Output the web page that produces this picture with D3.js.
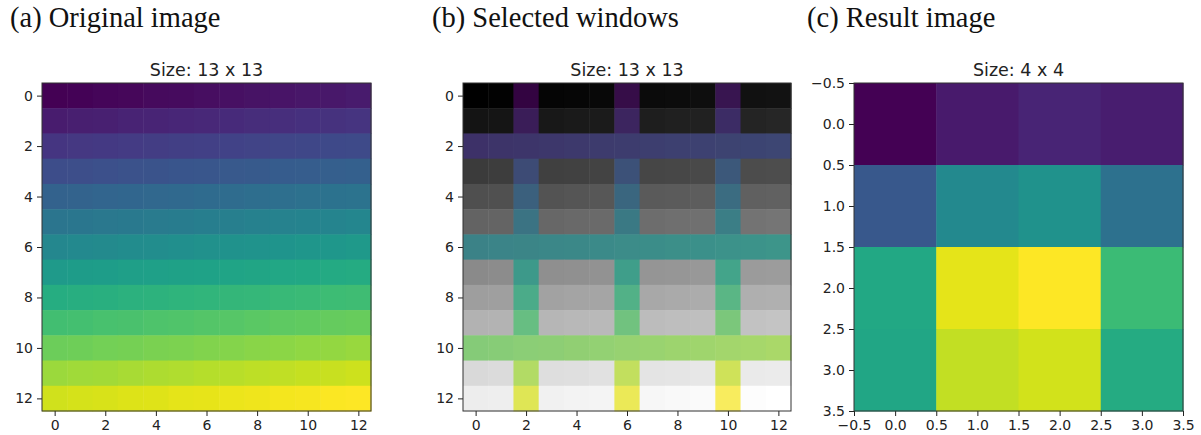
<!DOCTYPE html>
<html>
<head>
<meta charset="utf-8">
<script src="https://cdn.jsdelivr.net/npm/d3@7"></script>
<style>
  html, body { margin: 0; padding: 0; background: #fff; }
  svg { display: block; }
  .tick text { font-family: "DejaVu Sans", sans-serif; font-size: 14px; fill: #222; }
  .tick line { stroke: #222; }
  .domain { display: none; }
</style>
</head>
<body>
<svg id="fig" width="1201" height="435"></svg>
<script>
// 13 x 13 input image (row-major pixel values)
const originalImage = [
  [  0,   1,   2,   3,   4,   5,   6,   7,   8,   9,  10,  11,  12],
  [ 13,  14,  15,  16,  17,  18,  19,  20,  21,  22,  23,  24,  25],
  [ 26,  27,  28,  29,  30,  31,  32,  33,  34,  35,  36,  37,  38],
  [ 39,  40,  41,  42,  43,  44,  45,  46,  47,  48,  49,  50,  51],
  [ 52,  53,  54,  55,  56,  57,  58,  59,  60,  61,  62,  63,  64],
  [ 65,  66,  67,  68,  69,  70,  71,  72,  73,  74,  75,  76,  77],
  [ 78,  79,  80,  81,  82,  83,  84,  85,  86,  87,  88,  89,  90],
  [ 91,  92,  93,  94,  95,  96,  97,  98,  99, 100, 101, 102, 103],
  [104, 105, 106, 107, 108, 109, 110, 111, 112, 113, 114, 115, 116],
  [117, 118, 119, 120, 121, 122, 123, 124, 125, 126, 127, 128, 129],
  [130, 131, 132, 133, 134, 135, 136, 137, 138, 139, 140, 141, 142],
  [143, 144, 145, 146, 147, 148, 149, 150, 151, 152, 153, 154, 155],
  [156, 157, 158, 159, 160, 161, 162, 163, 164, 165, 166, 167, 168]
];

// rows / columns picked out as sampling windows
const selectedRows = [2, 6, 10];
const selectedCols = [2, 6, 10];

// 4 x 4 output image
const resultImage = [
  [0.00, 0.07, 0.10, 0.08],
  [0.27, 0.47, 0.51, 0.37],
  [0.60, 0.96, 1.00, 0.68],
  [0.59, 0.91, 0.93, 0.61]
];

// tick labels
const bigTicks = [0, 2, 4, 6, 8, 10, 12];
const smallTicks = [-0.5, 0.0, 0.5, 1.0, 1.5, 2.0, 2.5, 3.0, 3.5];

const panelTitles = ["(a) Original image", "(b) Selected windows", "(c) Result image"];
const axesTitles = ["Size: 13 x 13", "Size: 13 x 13", "Size: 4 x 4"];

// opacity of the colour overlay on the selected windows
const highlightAlpha = 0.72;

const svg = d3.select("#fig");

const panels = [
  { title: panelTitles[0], titleX: 10, sub: axesTitles[0], x0: 42, x1: 371, y0: 83, y1: 411 },
  { title: panelTitles[1], titleX: 432, sub: axesTitles[1], x0: 463, x1: 791, y0: 83, y1: 411 },
  { title: panelTitles[2], titleX: 807, sub: axesTitles[2], x0: 854, x1: 1183, y0: 83, y1: 411 }
];

function drawFrame(g, p, n, ticks, fmt) {
  const x = d3.scaleLinear().domain([-0.5, n - 0.5]).range([p.x0, p.x1]);
  const y = d3.scaleLinear().domain([-0.5, n - 0.5]).range([p.y0, p.y1]);
  g.append("g").attr("transform", `translate(0,${p.y1})`)
    .call(d3.axisBottom(x).tickValues(ticks).tickFormat(fmt).tickSize(5).tickPadding(4));
  g.append("g").attr("transform", `translate(${p.x0},0)`)
    .call(d3.axisLeft(y).tickValues(ticks).tickFormat(fmt).tickSize(5).tickPadding(4));
  g.append("rect")
    .attr("x", p.x0).attr("y", p.y0)
    .attr("width", p.x1 - p.x0).attr("height", p.y1 - p.y0)
    .attr("fill", "none").attr("stroke", "#333").attr("stroke-width", 1);
  g.append("text")
    .attr("x", (p.x0 + p.x1) / 2).attr("y", 76)
    .attr("text-anchor", "middle")
    .attr("font-family", "DejaVu Sans, sans-serif").attr("font-size", 17.5)
    .attr("fill", "#222")
    .text(p.sub);
}

function drawTitle(p) {
  svg.append("text")
    .attr("x", p.titleX).attr("y", 27)
    .attr("font-family", "Liberation Serif, Times New Roman, serif")
    .attr("font-size", 28.5)
    .attr("fill", "#111")
    .text(p.title);
}

function drawCells(g, cells, x, y, fill) {
  g.selectAll(null).data(cells).join("rect")
    .attr("x", d => x(d.j - 0.5)).attr("y", d => y(d.i - 0.5))
    .attr("width", x(0.5) - x(-0.5) + 0.5).attr("height", y(0.5) - y(-0.5) + 0.5)
    .attr("fill", fill);
}

const fmtInt = d3.format("d");
const fmtDec = d => (d < 0 ? "\u2212" : "") + Math.abs(d).toFixed(1);

const flat = originalImage.flatMap((row, i) => row.map((v, j) => ({ i, j, v })));
const vmin = d3.min(flat, d => d.v), vmax = d3.max(flat, d => d.v);
const viridis = d3.scaleSequential(d3.interpolateViridis).domain([vmin, vmax]);
const gray = d3.scaleLinear().domain([vmin, vmax]).range(["#000000", "#ffffff"]);

// (a) original image
{
  const p = panels[0];
  const g = svg.append("g");
  const x = d3.scaleLinear().domain([-0.5, 12.5]).range([p.x0, p.x1]);
  const y = d3.scaleLinear().domain([-0.5, 12.5]).range([p.y0, p.y1]);
  drawCells(g, flat, x, y, d => viridis(d.v));
  drawFrame(g, p, 13, bigTicks, fmtInt);
  drawTitle(p);
}

// (b) grayscale image with the selected windows tinted in colour
{
  const p = panels[1];
  const g = svg.append("g");
  const x = d3.scaleLinear().domain([-0.5, 12.5]).range([p.x0, p.x1]);
  const y = d3.scaleLinear().domain([-0.5, 12.5]).range([p.y0, p.y1]);
  const isSelected = d => selectedRows.includes(d.i) || selectedCols.includes(d.j);
  drawCells(g, flat, x, y, d => isSelected(d)
    ? d3.interpolateRgb(gray(d.v), viridis(d.v))(highlightAlpha)
    : gray(d.v));
  drawFrame(g, p, 13, bigTicks, fmtInt);
  drawTitle(p);
}

// (c) result image
{
  const p = panels[2];
  const g = svg.append("g");
  const cells = resultImage.flatMap((row, i) => row.map((v, j) => ({ i, j, v })));
  const color = d3.scaleSequential(d3.interpolateViridis)
    .domain(d3.extent(cells, d => d.v));
  const x = d3.scaleLinear().domain([-0.5, 3.5]).range([p.x0, p.x1]);
  const y = d3.scaleLinear().domain([-0.5, 3.5]).range([p.y0, p.y1]);
  drawCells(g, cells, x, y, d => color(d.v));
  drawFrame(g, p, 4, smallTicks, fmtDec);
  drawTitle(p);
}
</script>
</body>
</html>
